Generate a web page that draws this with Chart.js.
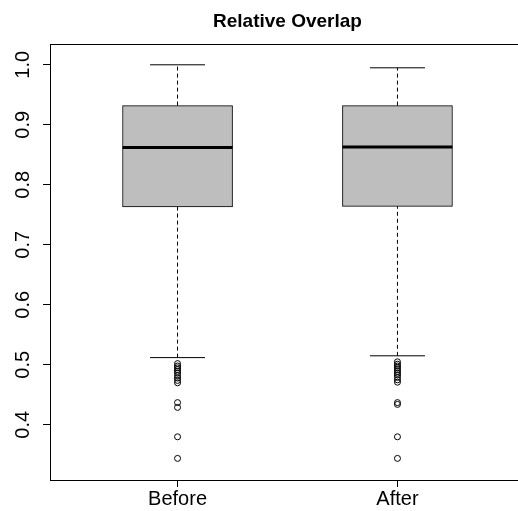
<!DOCTYPE html>
<html>
<head>
<meta charset="utf-8">
<script src="https://cdn.jsdelivr.net/npm/chart.js@4"></script>
<style>
    html, body { margin: 0; padding: 0; background: #fff; overflow: hidden; }
    canvas { display: block; }
</style>
</head>
<body>
<canvas id="chart" width="530" height="511"></canvas>
<script>
const categories = ['Before', 'After'];
const lowerWhisker = [0.512, 0.515];
const q1 = [0.763, 0.764];
const median = [0.862, 0.863];
const q3 = [0.932, 0.932];
const upperWhisker = [1.0, 0.995];
const outliersBefore = [0.502, 0.498, 0.495, 0.492, 0.489, 0.486, 0.482, 0.478, 0.474, 0.470, 0.437, 0.429, 0.380, 0.344];
const outliersAfter = [0.505, 0.501, 0.498, 0.495, 0.492, 0.489, 0.486, 0.483, 0.479, 0.475, 0.471, 0.437, 0.434, 0.380, 0.344];
const yTicks = [0.4, 0.5, 0.6, 0.7, 0.8, 0.9, 1.0];

const boxHalf = 0.25;   // half box width, x units
const capHalf = 0.125;  // half staple width

function segment(x0, x1, y0, y1, width, dash) {
    return {
        type: 'line',
        data: [{x: x0, y: y0}, {x: x1, y: y1}],
        borderColor: '#000',
        borderWidth: width,
        borderDash: dash || [],
        pointRadius: 0,
        fill: false,
        order: 0,
    };
}

const datasets = [];
categories.forEach((c, i) => {
    const x = i + 1;
    datasets.push(segment(x, x, q3[i], upperWhisker[i], 1, [4, 3]));
    datasets.push(segment(x, x, lowerWhisker[i], q1[i], 1, [4, 3]));
    datasets.push(segment(x - capHalf, x + capHalf, upperWhisker[i], upperWhisker[i], 1));
    datasets.push(segment(x - capHalf, x + capHalf, lowerWhisker[i], lowerWhisker[i], 1));
    datasets.push(segment(x - boxHalf, x + boxHalf, median[i], median[i], 3));
});

// box drawn first, everything else on top of it
datasets.push({
    type: 'bar',
    data: categories.map((c, i) => ({x: i + 1, y: [q1[i], q3[i]]})),
    backgroundColor: '#bebebe',
    borderColor: '#000',
    borderWidth: 1,
    borderSkipped: false,
    barThickness: 110,
    order: 1,
});

[outliersBefore, outliersAfter].forEach((arr, i) => {
    datasets.push({
        type: 'scatter',
        data: arr.map(v => ({x: i + 1, y: v})),
        pointStyle: 'circle',
        pointRadius: 3,
        backgroundColor: 'rgba(0,0,0,0)',
        borderColor: '#000',
        borderWidth: 1,
        order: 0,
    });
});

const frame = {
    id: 'frame',
    afterDraw(chart) {
        const {ctx, chartArea: a} = chart;
        ctx.save();
        ctx.strokeStyle = '#000';
        ctx.lineWidth = 1;
        ctx.strokeRect(Math.round(a.left) + 0.5, Math.round(a.top) + 0.5,
            Math.round(a.right - a.left), Math.round(a.bottom - a.top));
        ctx.restore();
    }
};

const axisFont = {family: 'Liberation Sans, Arial, sans-serif', size: 20};

new Chart(document.getElementById('chart'), {
    type: 'bar',
    data: {datasets: datasets},
    options: {
        responsive: false,
        animation: false,
        layout: {padding: {top: 0, right: 5, bottom: 0, left: 0}},
        plugins: {
            legend: {display: false},
            tooltip: {enabled: false},
            title: {
                display: true,
                text: 'Relative Overlap',
                fullSize: false,
                color: '#000',
                font: {family: 'Liberation Sans, Arial, sans-serif', size: 19, weight: 'bold'},
                padding: {top: 10, bottom: 11},
            },
        },
        scales: {
            x: {
                type: 'linear',
                offset: false,
                min: 0.42,
                max: 2.58,
                afterBuildTicks: s => { s.ticks = categories.map((c, i) => ({value: i + 1})); },
                afterFit: s => { s.height = 31; },
                grid: {drawOnChartArea: false, drawTicks: true, tickLength: 7, color: '#000', offset: false},
                border: {display: false},
                ticks: {
                    color: '#000',
                    font: axisFont,
                    padding: 0,
                    maxRotation: 0,
                    callback: v => categories[v - 1],
                },
            },
            y: {
                type: 'linear',
                min: 0.308,
                max: 1.035,
                afterBuildTicks: s => { s.ticks = yTicks.map(v => ({value: v})); },
                afterFit: s => { s.width = 50; },
                grid: {drawOnChartArea: false, drawTicks: true, tickLength: 7, color: '#000'},
                border: {display: false},
                ticks: {
                    color: '#000',
                    font: axisFont,
                    padding: 6,
                    minRotation: 90,
                    maxRotation: 90,
                    crossAlign: 'center',
                    callback: v => v.toFixed(1),
                },
            },
        },
    },
    plugins: [frame],
});
</script>
</body>
</html>
